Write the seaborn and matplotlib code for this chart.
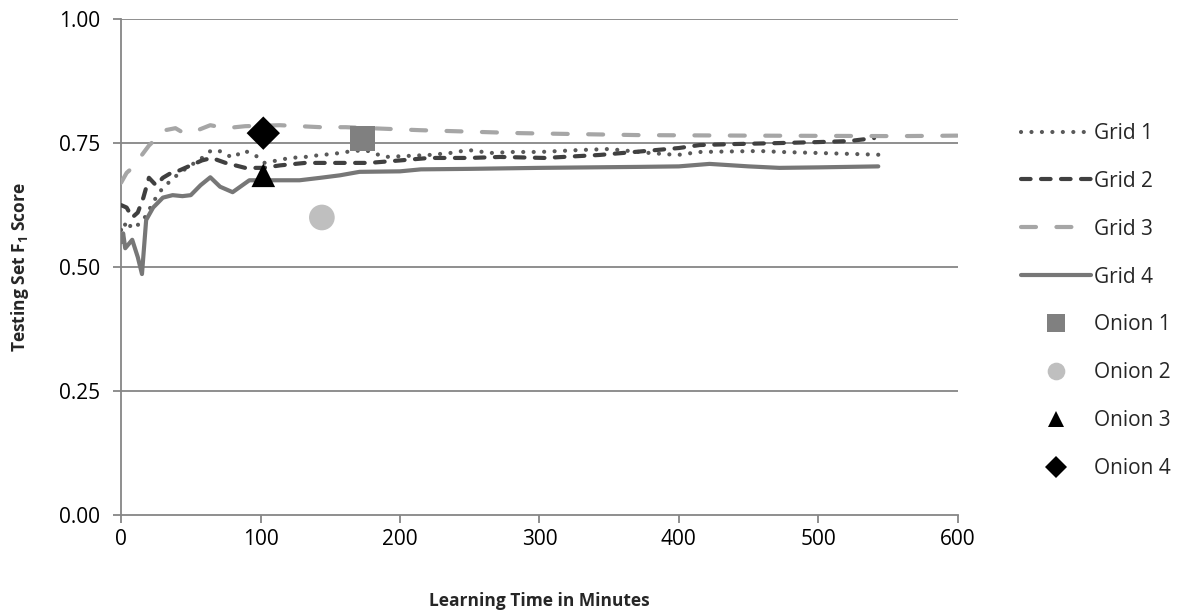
import numpy as np
import pandas as pd
import matplotlib
matplotlib.use("Agg")
import matplotlib.pyplot as plt
from matplotlib.lines import Line2D
import seaborn as sns

# Learning curves: (minutes, testing-set F1)
grid1_x = [0, 2, 5, 8, 12, 16, 20, 25, 30, 36, 42, 50, 58, 65, 72, 80, 88, 96, 103, 112, 121, 132, 143, 152, 161, 175, 189, 205, 221, 236, 249, 265, 280, 300, 329, 350, 379, 399, 415, 435, 458, 474, 500, 525, 549]
grid1_y = [0.575, 0.59, 0.575, 0.59, 0.585, 0.595, 0.615, 0.64, 0.66, 0.675, 0.69, 0.705, 0.72, 0.736, 0.733, 0.72, 0.735, 0.726, 0.71, 0.715, 0.72, 0.722, 0.726, 0.728, 0.732, 0.736, 0.722, 0.724, 0.726, 0.73, 0.736, 0.73, 0.732, 0.732, 0.736, 0.738, 0.73, 0.726, 0.732, 0.733, 0.734, 0.732, 0.73, 0.728, 0.726]

grid2_x = [0, 4, 8, 12, 16, 20, 25, 30, 36, 42, 50, 58, 65, 75, 89, 102, 114, 132, 157, 178, 200, 221, 250, 272, 304, 343, 368, 376, 400, 415, 440, 472, 500, 522, 540]
grid2_y = [0.625, 0.62, 0.6, 0.61, 0.64, 0.68, 0.665, 0.68, 0.69, 0.695, 0.705, 0.715, 0.72, 0.71, 0.70, 0.70, 0.705, 0.71, 0.71, 0.71, 0.715, 0.72, 0.72, 0.722, 0.72, 0.726, 0.732, 0.734, 0.74, 0.746, 0.748, 0.75, 0.752, 0.754, 0.76]

grid3_x = [0, 4, 8, 12, 16, 20, 24, 30, 39, 45, 55, 64, 75, 89, 114, 143, 161, 214, 286, 372, 450, 558, 600]
grid3_y = [0.67, 0.69, 0.70, 0.715, 0.73, 0.745, 0.756, 0.775, 0.78, 0.77, 0.776, 0.786, 0.78, 0.784, 0.786, 0.782, 0.782, 0.776, 0.77, 0.766, 0.765, 0.764, 0.765]

grid4_x = [0, 1.5, 3, 8, 12, 15, 18, 23, 30, 37, 44, 50, 57, 64, 71, 80, 92, 107, 128, 143, 157, 171, 200, 215, 250, 300, 372, 400, 422, 450, 472, 500, 543]
grid4_y = [0.55, 0.568, 0.538, 0.555, 0.52, 0.486, 0.595, 0.62, 0.64, 0.645, 0.643, 0.645, 0.665, 0.681, 0.662, 0.651, 0.675, 0.675, 0.675, 0.68, 0.685, 0.692, 0.693, 0.697, 0.698, 0.700, 0.702, 0.703, 0.708, 0.703, 0.700, 0.701, 0.703]

# Single-run results
onion_names = ["Onion 1", "Onion 2", "Onion 3", "Onion 4"]
onion_x = [173, 144, 102, 102]
onion_y = [0.76, 0.60, 0.685, 0.77]

grid_names = ["Grid 1", "Grid 2", "Grid 3", "Grid 4"]
x_ticks = [0, 100, 200, 300, 400, 500, 600]
y_ticks = [0.00, 0.25, 0.50, 0.75, 1.00]

sns.set_theme(style="white")
plt.rcParams["font.family"] = ["Open Sans", "DejaVu Sans"]

fig = plt.figure(figsize=(11.88, 6.14), dpi=100)
ax = fig.add_axes([0.1019, 0.161, 0.7043, 0.808])

grid_color = "#868686"
tick_fs = 15
for yv in y_ticks[1:]:
    ax.axhline(yv, color=grid_color, lw=1.3, zorder=0)

lw = 3.0
line_styles = {
    "Grid 1": dict(color="#595959", ls=(0, (0.01, 2.5))),
    "Grid 2": dict(color="#404040", ls=(0, (2.3, 2.5))),
    "Grid 3": dict(color="#A6A6A6", ls=(0, (3.6, 4.9))),
    "Grid 4": dict(color="#777777", ls="-"),
}
series = {
    "Grid 1": (grid1_x, grid1_y),
    "Grid 2": (grid2_x, grid2_y),
    "Grid 3": (grid3_x, grid3_y),
    "Grid 4": (grid4_x, grid4_y),
}

handles = []
for name in grid_names:
    xs, ys = series[name]
    st = line_styles[name]
    df = pd.DataFrame({"minutes": xs, "f1": ys})
    sns.lineplot(data=df, x="minutes", y="f1", ax=ax, sort=False,
                 color=st["color"], lw=lw, linestyle=st["ls"],
                 dash_capstyle="round", solid_capstyle="round", zorder=3)
    handles.append(Line2D([], [], color=st["color"], lw=lw, linestyle=st["ls"],
                          dash_capstyle="round", solid_capstyle="round", label=name))

marker_styles = {
    "Onion 1": dict(marker="s", color="#808080", size=18, legend=12.5),
    "Onion 2": dict(marker="o", color="#BFBFBF", size=18.5, legend=12.7),
    "Onion 3": dict(marker="^", color="#000000", size=17, legend=12),
    "Onion 4": dict(marker="D", color="#000000", size=17, legend=11),
}
for name, xv, yv in zip(onion_names, onion_x, onion_y):
    st = marker_styles[name]
    sns.scatterplot(x=[xv], y=[yv], ax=ax, marker=st["marker"], color=st["color"],
                    s=st["size"] ** 2, edgecolor="none", linewidth=0, zorder=5)
    handles.append(Line2D([], [], ls="none", marker=st["marker"], color=st["color"],
                          markeredgewidth=0, markersize=st["legend"], label=name))

ax.set_xlim(0, 600)
ax.set_ylim(0, 1.0)
ax.set_xticks(x_ticks)
ax.set_yticks(y_ticks)
ax.set_yticklabels([f"{v:.2f}" for v in y_ticks])
for side in ["top", "right"]:
    ax.spines[side].set_visible(False)
for side in ["left", "bottom"]:
    ax.spines[side].set_color(grid_color)
    ax.spines[side].set_linewidth(1.3)
ax.tick_params(axis="both", which="both", direction="out", length=6, width=1.3,
               color=grid_color, labelsize=tick_fs, labelcolor="black")
ax.tick_params(axis="y", left=True, pad=9)
ax.tick_params(axis="x", bottom=True, pad=4)

ax.set_xlabel("Learning Time in Minutes", fontsize=12.5, fontweight="bold", labelpad=30)
ax.set_ylabel("Testing Set F$_\\mathregular{1}$ Score", fontsize=12.5, fontweight="bold", labelpad=20)

fig.legend(handles=handles, loc="upper left", bbox_to_anchor=(0.852, 0.8134),
           frameon=False, fontsize=tick_fs, handlelength=3.4, handletextpad=0.12,
           labelspacing=1.29, borderaxespad=0)

fig.savefig("out.png", dpi=100)
